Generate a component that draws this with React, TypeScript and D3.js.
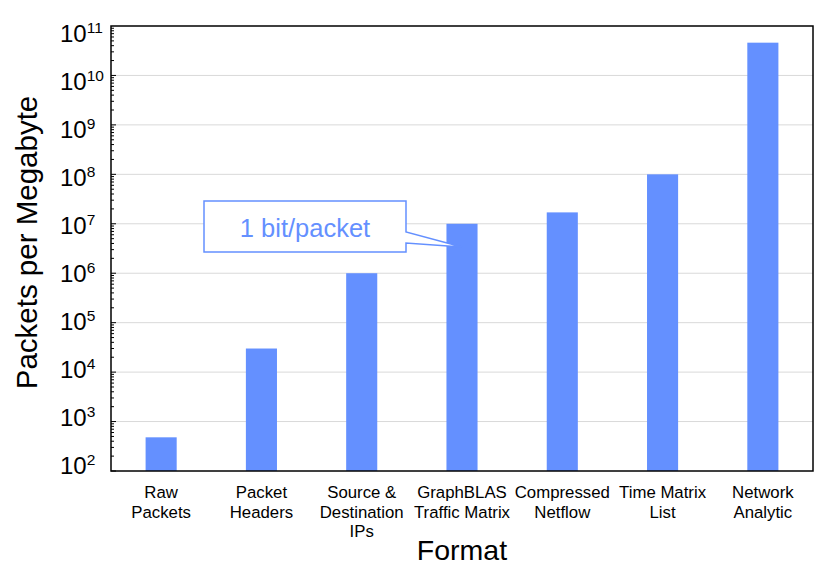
import * as d3 from 'd3';
import { useEffect, useRef } from 'react';

const categories = [
  ['Raw', 'Packets'],
  ['Packet', 'Headers'],
  ['Source &', 'Destination', 'IPs'],
  ['GraphBLAS', 'Traffic Matrix'],
  ['Compressed', 'Netflow'],
  ['Time Matrix', 'List'],
  ['Network', 'Analytic'],
];
const packetsPerMB = [480, 3e4, 1e6, 1e7, 1.7e7, 1e8, 4.6e10];
const decadeExponents = [2, 3, 4, 5, 6, 7, 8, 9, 10, 11];

const calloutText = '1 bit/packet';
const calloutIndex = 3;
const calloutValue = 3.4e6;

const BLUE = '#6490ff';

const App = () => {
  const ref = useRef<SVGSVGElement | null>(null);

  useEffect(() => {
    if (!ref.current) return;
    const svg = d3.select(ref.current);
    svg.selectAll('*').remove();

    const width = 830;
    const height = 586;
    const left = 111;
    const right = 813;
    const top = 26;
    const bottom = 471;

    svg.attr('width', width).attr('height', height);

    const x = d3
      .scaleBand()
      .domain(categories.map((_, i) => String(i)))
      .range([left, right])
      .paddingInner(0.69)
      .paddingOuter(0.345);

    const y = d3.scaleLog().domain([1e2, 1e11]).range([bottom, top]);
    // tick labels sit on a slightly tighter spacing than the gridlines
    const yLabel = d3.scaleLog().domain([1e2, 1e11]).range([466, 34]);

    // gridlines
    svg
      .append('g')
      .selectAll('line')
      .data(decadeExponents.slice(1, -1))
      .enter()
      .append('line')
      .attr('x1', left)
      .attr('x2', right)
      .attr('y1', d => y(Math.pow(10, d)))
      .attr('y2', d => y(Math.pow(10, d)))
      .attr('stroke', '#d9d9d9')
      .attr('stroke-width', 1);

    // bars
    svg
      .append('g')
      .selectAll('rect')
      .data(packetsPerMB)
      .enter()
      .append('rect')
      .attr('x', (_, i) => x(String(i)) || 0)
      .attr('y', d => y(d))
      .attr('width', x.bandwidth())
      .attr('height', d => bottom - y(d))
      .attr('fill', BLUE);

    // minor + major ticks (inward)
    const ticks: { v: number; major: boolean }[] = [];
    for (let e = 2; e < 11; e++) {
      for (let m = 1; m < 10; m++) ticks.push({ v: m * Math.pow(10, e), major: m === 1 });
    }
    svg
      .append('g')
      .selectAll('line')
      .data(ticks)
      .enter()
      .append('line')
      .attr('x1', left)
      .attr('x2', d => left + (d.major ? 5 : 3))
      .attr('y1', d => y(d.v))
      .attr('y2', d => y(d.v))
      .attr('stroke', '#000')
      .attr('stroke-width', 1);

    // frame
    svg
      .append('rect')
      .attr('x', left)
      .attr('y', top)
      .attr('width', right - left)
      .attr('height', bottom - top)
      .attr('fill', 'none')
      .attr('stroke', '#000')
      .attr('stroke-width', 1.5);

    // y tick labels
    const yl = svg
      .append('g')
      .attr('font-family', 'Liberation Sans, Arial, sans-serif')
      .attr('fill', '#000');
    decadeExponents.forEach(e => {
      const t = yl
        .append('text')
        .attr('x', 60)
        .attr('y', yLabel(Math.pow(10, e)) + 8)
        .attr('font-size', 24);
      t.append('tspan').text('10');
      t.append('tspan').attr('dy', -9).attr('font-size', 15.5).text(String(e));
    });

    // category labels
    const cl = svg
      .append('g')
      .attr('font-family', 'Liberation Sans, Arial, sans-serif')
      .attr('font-size', 16.8)
      .attr('text-anchor', 'middle')
      .attr('fill', '#000');
    categories.forEach((lines, i) => {
      const cx = (x(String(i)) || 0) + x.bandwidth() / 2;
      lines.forEach((ln, j) => {
        cl.append('text')
          .attr('x', cx)
          .attr('y', 498 + j * 19.5)
          .text(ln);
      });
    });

    // axis titles
    svg
      .append('text')
      .attr('x', (left + right) / 2)
      .attr('y', 560)
      .attr('text-anchor', 'middle')
      .attr('font-family', 'Liberation Sans, Arial, sans-serif')
      .attr('font-size', 28.5)
      .text('Format');

    svg
      .append('text')
      .attr('transform', `translate(37,${(top + bottom) / 2 - 6}) rotate(-90)`)
      .attr('text-anchor', 'middle')
      .attr('font-family', 'Liberation Sans, Arial, sans-serif')
      .attr('font-size', 29.5)
      .text('Packets per Megabyte');

    // callout
    const tipX = (x(String(calloutIndex)) || 0) + x.bandwidth() / 2;
    const tipY = y(calloutValue);
    const bx0 = tipX - 258;
    const bx1 = tipX - 56;
    const by0 = tipY - 46;
    const by1 = tipY + 5;
    const path = d3.path();
    path.moveTo(bx0, by0);
    path.lineTo(bx1, by0);
    path.lineTo(bx1, tipY - 15);
    path.lineTo(tipX, tipY);
    path.lineTo(bx1, tipY - 4);
    path.lineTo(bx1, by1);
    path.lineTo(bx0, by1);
    path.closePath();
    svg
      .append('path')
      .attr('d', path.toString())
      .attr('fill', '#fff')
      .attr('stroke', BLUE)
      .attr('stroke-width', 1.5);
    svg
      .append('text')
      .attr('x', (bx0 + bx1) / 2)
      .attr('y', tipY - 10)
      .attr('text-anchor', 'middle')
      .attr('font-family', 'Liberation Sans, Arial, sans-serif')
      .attr('font-size', 25.5)
      .attr('fill', BLUE)
      .text(calloutText);
  }, []);

  return (
    <svg
      ref={ref}
      style={{ position: 'absolute', left: 0, top: 0, background: '#fff' }}
    />
  );
};

export default App;
